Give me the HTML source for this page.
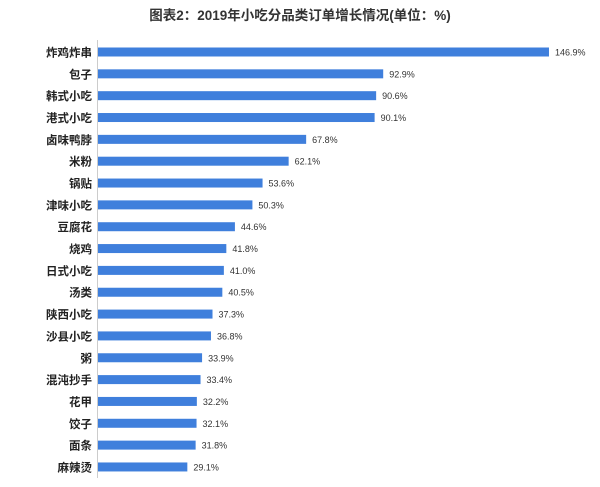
<!DOCTYPE html><html><head><meta charset="utf-8"><style>
body{margin:0;width:600px;height:482px;background:#fff;overflow:hidden;font-family:"Liberation Sans","Noto Sans CJK SC",sans-serif}
</style></head><body>
<svg width="600" height="482" xmlns="http://www.w3.org/2000/svg">
<text x="300" y="20" text-anchor="middle" font-size="13.5" font-weight="bold" fill="#333" font-family="Liberation Sans, Noto Sans CJK SC, sans-serif">图表2：2019年小吃分品类订单增长情况(单位：%)</text>
<line x1="97.5" y1="40" x2="97.5" y2="478" stroke="#ccc"/>
<g id="bars" font-family="Liberation Sans, Noto Sans CJK SC, sans-serif"></g>
</svg>
<script>
var d=[["炸鸡炸串",146.9],["包子",92.9],["韩式小吃",90.6],["港式小吃",90.1],["卤味鸭脖",67.8],["米粉",62.1],["锅贴",53.6],["津味小吃",50.3],["豆腐花",44.6],["烧鸡",41.8],["日式小吃",41.0],["汤类",40.5],["陕西小吃",37.3],["沙县小吃",36.8],["粥",33.9],["混沌抄手",33.4],["花甲",32.2],["饺子",32.1],["面条",31.8],["麻辣烫",29.1]];
var g=document.getElementById('bars'),s='';
d.forEach(function(r,i){var y=52+i*21.84,w=r[1]*3.07;
s+='<text x="92" y="'+(y+4.5)+'" text-anchor="end" font-size="11.5" font-weight="bold" fill="#222">'+r[0]+'</text>';
s+='<rect x="98" y="'+(y-4.5)+'" width="'+w+'" height="9" fill="#3f7fdc"/>';
s+='<text x="'+(98+w+6)+'" y="'+(y+3.5)+'" font-size="9" fill="#333">'+r[1].toFixed(1)+'%</text>';});
g.innerHTML=s;
</script>
</body></html>
